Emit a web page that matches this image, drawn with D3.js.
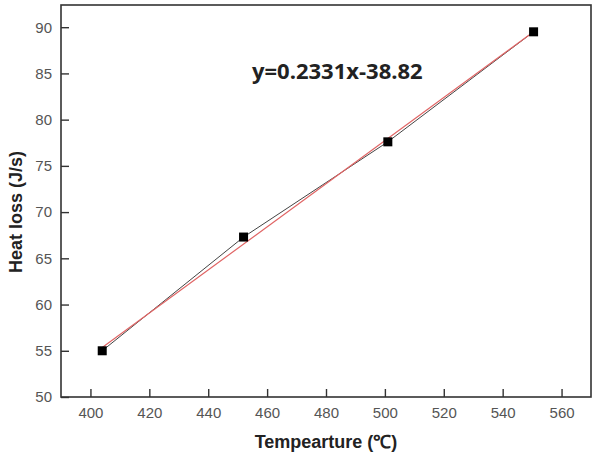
<!DOCTYPE html>
<html>
<head>
<meta charset="utf-8">
<script src="https://d3js.org/d3.v7.min.js"></script>
<style>
  body { margin: 0; background: #fff; }
  svg { display: block; }
</style>
</head>
<body>
<div id="chart"></div>
<script>
// measured points
var temperature = [404, 452, 501, 550.5];
var heat_loss = [55.0, 67.3, 77.6, 89.5];
// linear fit shown on the chart
var fit_slope = 0.2331;
var fit_intercept = -38.82;
var fit_label = 'y=0.2331x-38.82';
var x_ticks = [400, 420, 440, 460, 480, 500, 520, 540, 560];
var y_ticks = [50, 55, 60, 65, 70, 75, 80, 85, 90];
var x_title = 'Tempearture (\u2103)';
var y_title = 'Heat loss (J/s)';

var width = 594, height = 455;
// plot edges (don't call it "top", that's window.top)
var plot_left = 61, plot_right = 591, plot_top = 5, plot_bottom = 397;

var svg = d3.select('#chart').append('svg')
    .attr('width', width).attr('height', height);

var x = d3.scaleLinear().domain([390, 570]).range([plot_left, plot_right]);
var y = d3.scaleLinear().domain([50, 92.4]).range([plot_bottom, plot_top]);

var axis_color = '#333';
var label_color = '#555';

// minor ticks at half steps
var x_minor = x_ticks.map(function (d) { return d + 10; }).filter(function (d) { return d < 570; });
var y_minor = y_ticks.map(function (d) { return d + 2.5; }).filter(function (d) { return d < 92.4; });

// inward ticks
var gx = svg.append('g').attr('transform', 'translate(0,' + plot_bottom + ')');
gx.call(d3.axisBottom(x).tickValues(x_minor).tickSize(-4).tickFormat(''));
gx.call(d3.axisBottom(x).tickValues(x_ticks).tickSize(-8).tickPadding(10));
gx.selectAll('.domain').remove();
gx.selectAll('line').attr('stroke', axis_color).attr('stroke-width', 1.4);
gx.selectAll('text').attr('fill', label_color)
    .style('font-family', 'Liberation Sans, Arial, sans-serif').style('font-size', '15px');

var gy = svg.append('g').attr('transform', 'translate(' + plot_left + ',0)');
gy.call(d3.axisLeft(y).tickValues(y_minor).tickSize(-4).tickFormat(''));
gy.call(d3.axisLeft(y).tickValues(y_ticks).tickSize(-8).tickPadding(9));
gy.selectAll('.domain').remove();
gy.selectAll('line').attr('stroke', axis_color).attr('stroke-width', 1.4);
gy.selectAll('text').attr('fill', label_color)
    .style('font-family', 'Liberation Sans, Arial, sans-serif').style('font-size', '15px');

// frame
svg.append('rect')
    .attr('x', plot_left).attr('y', plot_top)
    .attr('width', plot_right - plot_left).attr('height', plot_bottom - plot_top)
    .attr('fill', 'none').attr('stroke', axis_color).attr('stroke-width', 1.6);

// connecting line
var pts = temperature.map(function (t, i) { return [t, heat_loss[i]]; });
svg.append('path')
    .datum(pts)
    .attr('fill', 'none').attr('stroke', '#444').attr('stroke-width', 1)
    .attr('d', d3.line().x(function (d) { return x(d[0]); }).y(function (d) { return y(d[1]); }));

// fit line
var x0 = d3.min(temperature), x1 = d3.max(temperature);
svg.append('line')
    .attr('x1', x(x0)).attr('y1', y(fit_slope * x0 + fit_intercept))
    .attr('x2', x(x1)).attr('y2', y(fit_slope * x1 + fit_intercept))
    .attr('stroke', '#e06464').attr('stroke-width', 1.2);

// markers
svg.selectAll('rect.pt').data(pts).enter().append('rect')
    .attr('class', 'pt')
    .attr('x', function (d) { return x(d[0]) - 4.5; })
    .attr('y', function (d) { return y(d[1]) - 4.5; })
    .attr('width', 9).attr('height', 9)
    .attr('fill', '#000');

// equation
svg.append('text')
    .attr('x', 252).attr('y', 79)
    .text(fit_label)
    .style('font-family', 'Open Sans, sans-serif').style('font-weight', 'bold')
    .style('font-size', '22px').attr('fill', '#222');

// axis titles
svg.append('text')
    .attr('x', (plot_left + plot_right) / 2).attr('y', 448)
    .attr('text-anchor', 'middle')
    .text(x_title)
    .style('font-family', 'Liberation Sans, Arial, sans-serif').style('font-weight', 'bold')
    .style('font-size', '18px').attr('fill', '#222');

svg.append('text')
    .attr('transform', 'translate(22,212) rotate(-90)')
    .attr('text-anchor', 'middle')
    .text(y_title)
    .style('font-family', 'Liberation Sans, Arial, sans-serif').style('font-weight', 'bold')
    .style('font-size', '18px').attr('fill', '#222');
</script>
</body>
</html>
